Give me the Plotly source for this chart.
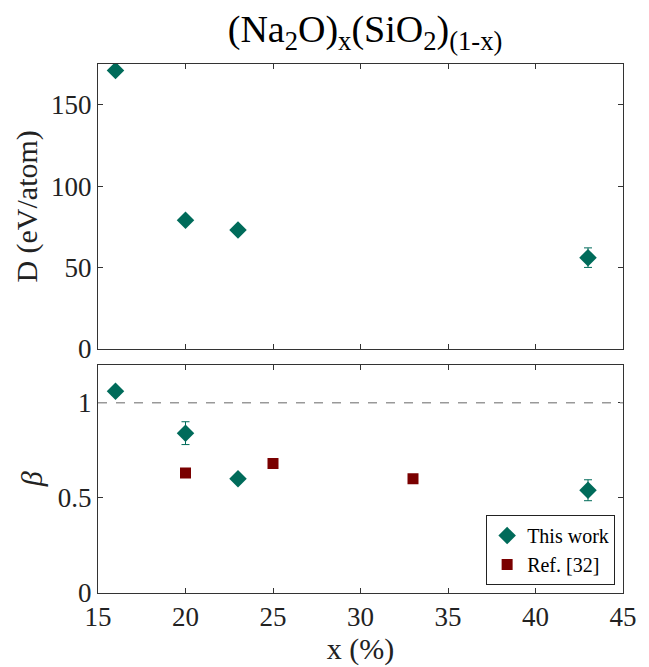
import plotly.graph_objects as go
from plotly.subplots import make_subplots

# this work
x_this = [16, 20, 23, 43]
d_this = [171, 79, 73, 56]
d_err = [2, 2, 2, 6]
beta_this = [1.06, 0.84, 0.60, 0.54]
beta_err = [0.02, 0.06, 0.02, 0.055]

# Ref. [32]
x_ref = [20, 25, 33]
beta_ref = [0.63, 0.68, 0.60]

x_ticks = [15, 20, 25, 30, 35, 40, 45]

teal = "#006b5a"
red = "#7a0000"
serif = "Liberation Serif"

fig = make_subplots(rows=2, cols=1, shared_xaxes=False, vertical_spacing=0.03,
                    row_heights=[0.555, 0.445])

fig.add_trace(go.Scatter(x=x_this, y=d_this, mode="markers",
                         error_y=dict(type="data", array=d_err, color=teal, thickness=1, width=4),
                         marker=dict(symbol="diamond", size=13.5, color=teal),
                         showlegend=False), row=1, col=1)

fig.add_trace(go.Scatter(x=x_this, y=beta_this, mode="markers", name="This work",
                         error_y=dict(type="data", array=beta_err, color=teal, thickness=1, width=4),
                         marker=dict(symbol="diamond", size=13.5, color=teal)), row=2, col=1)

fig.add_trace(go.Scatter(x=x_ref, y=beta_ref, mode="markers", name="Ref. [32]",
                         marker=dict(symbol="square", size=11, color=red)), row=2, col=1)

fig.add_hline(y=1, line=dict(color="#999999", width=1.5, dash="dash"), row=2, col=1)

axis_style = dict(showline=True, linecolor="#333333", linewidth=1, mirror="ticks",
                  ticks="inside", ticklen=5, tickcolor="#333333", showgrid=False,
                  zeroline=False, tickfont=dict(family=serif, size=27, color="#222222"))
title_font = dict(family=serif, size=30, color="#222222")

fig.update_xaxes(range=[15, 45], tickvals=x_ticks, **axis_style)
fig.update_xaxes(showticklabels=False, row=1, col=1)
fig.update_xaxes(title=dict(text="x (%)", font=title_font, standoff=0), row=2, col=1)
fig.update_yaxes(**axis_style)
fig.update_yaxes(range=[0, 175], tickvals=[0, 50, 100, 150],
                 title=dict(text="D (eV/atom)", font=title_font, standoff=4), row=1, col=1)
fig.update_yaxes(range=[0, 1.2], tickvals=[0, 0.5, 1],
                 title=dict(text="<i>β</i>", font=title_font, standoff=6), row=2, col=1)

fig.update_layout(
    width=641, height=659,
    margin=dict(l=90, r=23, t=56, b=74),
    paper_bgcolor="white", plot_bgcolor="white",
    title=dict(text="(Na<sub>2</sub>O)<sub>x</sub>(SiO<sub>2</sub>)<sub>(1-x)</sub>",
               x=0.557, xanchor="center", y=0.968, yanchor="middle",
               font=dict(family=serif, size=38, color="black")),
    legend=dict(x=0.985, y=0.015, xanchor="right", yanchor="bottom",
                bordercolor="#222222", borderwidth=1, bgcolor="white",
                font=dict(family=serif, size=20, color="black"),
                itemwidth=30, tracegroupgap=0),
)

fig.write_html("out.html")
